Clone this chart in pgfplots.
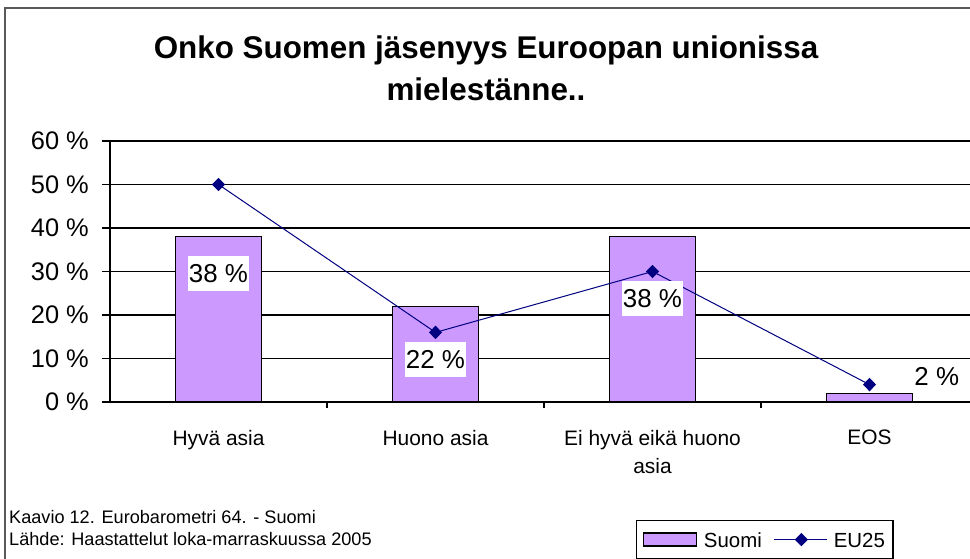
\documentclass[border=0pt]{standalone}
\usepackage{pgfplots}
\pgfplotsset{compat=1.18}
\usepackage{fontspec}
\setmainfont{Liberation Sans}
\definecolor{suomi}{RGB}{204,153,255}
\definecolor{eu}{RGB}{0,0,128}
\pgfplotsset{
  barleg/.style={legend image code/.code={\draw[##1] (0bp,-6.5bp) rectangle (53bp,6.5bp); \path (58bp,0bp);}},
  lineleg/.style={legend image code/.code={\draw[##1,mark repeat=2,mark phase=2] plot coordinates {(0bp,0bp) (27bp,0bp) (53bp,0bp)}; \path (57bp,0bp);}},
}
\begin{document}
\begin{tikzpicture}[x=1bp,y=1bp]
\useasboundingbox (0,0) rectangle (970,559);
\draw[line width=2.5bp, black!65] (5,-30) rectangle (1000,551);
\node[anchor=base, inner sep=0pt, font=\fontsize{31.5}{36}\selectfont\bfseries] at (486,500) {Onko Suomen jäsenyys Euroopan unionissa};
\node[anchor=base, inner sep=0pt, font=\fontsize{31.5}{36}\selectfont\bfseries] at (486,458) {mielestänne..};
\node[anchor=base west, inner sep=0pt, font=\fontsize{18.2}{20}\selectfont] at (9,35) {Kaavio 12. Eurobarometri 64. - Suomi};
\node[anchor=base west, inner sep=0pt, font=\fontsize{18.2}{20}\selectfont] at (9,13) {Lähde: Haastattelut loka-marraskuussa 2005};
\begin{axis}[
  at={(110bp,157bp)}, anchor=south west,
  scale only axis, width=868bp, height=261bp,
  xmin=-0.5, xmax=3.5, ymin=0, ymax=60,
  axis x line=bottom, axis y line=left, axis line style={-, black, line width=1.3bp},
  ytick={0,10,20,30,40,50,60},
  yticklabels={0 \%,10 \%,20 \%,30 \%,40 \%,50 \%,60 \%},
  xtick={0,1,2,3},
  xticklabels={Hyvä asia, Huono asia, {Ei hyvä eikä huono\\asia}, EOS},
  minor xtick={0.5,1.5,2.5},
  major x tick style={draw=none},
  tick align=outside,
  major tick length=8bp, minor tick length=6bp,
  tick style={black, line width=1.3bp},
  ymajorgrids, major grid style={black, line width=1.5bp},
  yticklabel style={font=\fontsize{25.5}{28}\selectfont, inner sep=0pt, xshift=-13bp},
  xticklabel style={font=\fontsize{21}{28}\selectfont, align=center, inner sep=0pt, yshift=-20bp},
  legend style={at={(0.606,-0.452)}, anchor=north west, draw=black, line width=1.3bp,
    inner xsep=6bp, inner ysep=8bp,
    font=\fontsize{20.5}{24}\selectfont, legend columns=2,
    /tikz/every even column/.append style={column sep=10bp, inner xsep=6bp, text height=16.5bp, text depth=40bp}},
  clip=false,
]
\addplot[ybar, bar width=86bp, fill=suomi, draw=black, line width=1.3bp, barleg]
  coordinates {(0,38) (1,22) (2,38) (3,2)};
\addlegendentry{Suomi}
\addplot[eu, line width=1bp, mark=diamond*, mark size=6bp, mark options={fill=eu, xscale=1.3}, lineleg]
  coordinates {(0,50) (1,16) (2,30) (3,4)};
\addlegendentry{EU25}
\tikzset{lbl/.style={fill=white, inner xsep=1bp, inner ysep=0pt, minimum height=35bp, font=\fontsize{26}{28}\selectfont}}
\node[lbl] at (axis cs:0,29.5) {38 \%};
\node[lbl] at (axis cs:1,9.7) {22 \%};
\node[lbl] at (axis cs:2,23.8) {38 \%};
\node[lbl] at (axis cs:3.31,5.75) {2 \%};
\end{axis}
\end{tikzpicture}
\end{document}
